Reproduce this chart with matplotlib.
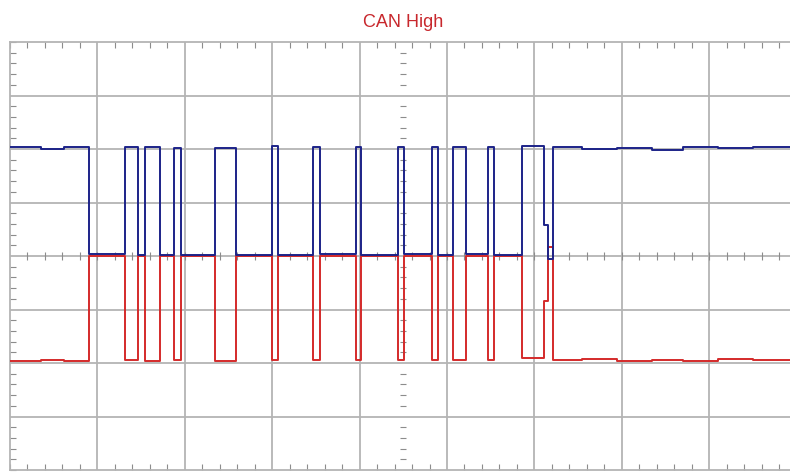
import numpy as np
import matplotlib
matplotlib.use("Agg")
import matplotlib.pyplot as plt

# Bus edge times (divisions from left edge of screen)
edgeTimes = [0.0, 0.35, 0.62, 0.907, 1.316, 1.468, 1.545, 1.716, 1.876, 1.951, 2.346, 2.586,
             2.994, 3.070, 3.470, 3.547, 3.959, 4.016, 4.436, 4.508, 4.825, 4.900,
             5.065, 5.217, 5.466, 5.543, 5.855, 6.110, 6.156, 6.209,
             6.55, 6.95, 7.35, 7.70, 8.10, 8.50]
endTime = 8.93

# Levels (divisions from centre line) after each edge
canHigh = [2.03, 2.00, 2.03, 0.03, 2.03, 0.02, 2.03, 0.02, 2.02, 0.02, 2.02, 0.02,
           2.05, 0.02, 2.03, 0.03, 2.03, 0.02, 2.04, 0.03, 2.03, 0.02,
           2.04, 0.03, 2.03, 0.02, 2.05, 0.58, -0.06, 2.03,
           2.00, 2.02, 1.99, 2.03, 2.01, 2.03]
canLow = [-1.96, -1.94, -1.96, 0.0, -1.95, 0.0, -1.97, 0.0, -1.95, 0.0, -1.96, 0.0,
          -1.94, 0.0, -1.95, 0.0, -1.94, 0.0, -1.95, 0.0, -1.95, 0.0,
          -1.95, 0.0, -1.95, 0.0, -1.90, -0.85, 0.17, -1.95,
          -1.93, -1.96, -1.94, -1.96, -1.93, -1.95]

titleText = "CAN High"

gridCol = "#b4b4b4"
tickCol = "#8c8c8c"

fig = plt.figure(figsize=(7.9, 4.72), dpi=100)
ax = fig.add_axes([10/790, 2/472, 780/790, 428/472])

t = edgeTimes + [endTime]
ax.plot(t, canLow + [canLow[-1]], drawstyle="steps-post", color="#d42a2a", lw=1.4, zorder=3)
ax.plot(t, canHigh + [canHigh[-1]], drawstyle="steps-post", color="#1c2288", lw=1.4, zorder=4)

ax.set_xlim(0, 780/87.4)
ax.set_ylim(-4, 4)

ax.set_xticks(np.arange(1, 9))
ax.set_yticks(np.arange(-3, 4))
ax.set_xticks(np.arange(0, 9.0, 0.2), minor=True)
ax.set_yticks(np.arange(-4, 4.01, 0.2), minor=True)
ax.grid(True, which="major", color=gridCol, lw=1.3)
ax.tick_params(which="major", length=0, labelbottom=False, labelleft=False)
ax.tick_params(which="minor", direction="in", length=4, width=0.8, color=tickCol,
               top=True, bottom=True, left=True, right=False)
for s in ["left", "top", "bottom"]:
    ax.spines[s].set_color(gridCol)
    ax.spines[s].set_linewidth(1.3)
ax.spines["right"].set_visible(False)

# centre graticule marks
cx = np.arange(0.2, 8.9, 0.2)
ax.plot(cx, np.zeros_like(cx), linestyle="none", marker="|", ms=6, mew=0.8, color=tickCol, zorder=2)
cy = np.array([v for v in np.arange(-3.8, 3.9, 0.2) if abs(v - round(v)) > 0.05])
ax.plot(np.full_like(cy, 4.5), cy, linestyle="none", marker="_", ms=5, mew=0.8, color=tickCol, zorder=2)

fig.text(403.5/790, 1 - 27/472, titleText, ha="center", va="baseline", color="#c8282d",
         fontsize=13, family=["Liberation Sans Narrow", "Liberation Sans", "DejaVu Sans"])

fig.savefig("out.png", dpi=100)
